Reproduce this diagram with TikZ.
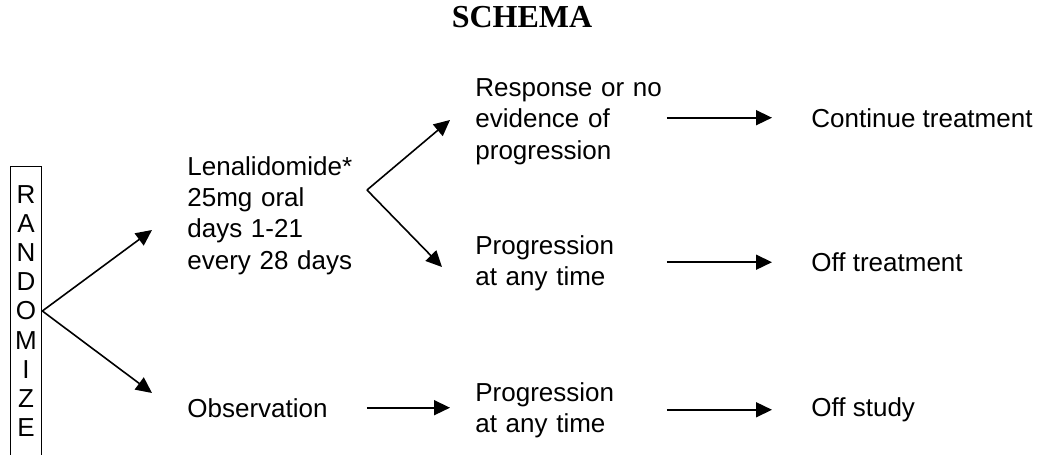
\documentclass[tikz,border=0pt]{standalone}
\usepackage{fontspec}
\setmainfont{Liberation Sans}
\newfontfamily\schemafont{Liberation Serif}
\usetikzlibrary{arrows.meta,positioning}

\begin{document}
\begin{tikzpicture}[
    x=0.5pt, y=-0.5pt,
    txt/.style={inner sep=0pt, anchor=base west, font={\fontsize{13pt}{15.75pt}\selectfont}},
    midtxt/.style={txt, text width=95.5pt, align=left},
    randbox/.style={draw, line width=0.5pt, inner sep=0pt, minimum width=15.85pt, minimum height=145pt, align=center, font={\fontsize{13pt}{14.6pt}\selectfont}},
    arr/.style={line width=0.8pt, -{Triangle[length=8pt,width=7.5pt]}}
]
    \useasboundingbox (0,0) rectangle (1040,455);

    \node[anchor=base, font={\schemafont\fontsize{16pt}{19pt}\selectfont\bfseries}] (title) at (522,27.5) {SCHEMA};

    \node[randbox] (rand) at (26,311) {R\\A\\N\\D\\O\\M\\I\\Z\\E};

    \node[midtxt, text width=84pt] (lena) at (187,175) {Lenalidomide*\\25mg oral\\days 1-21\\every 28 days};
    \node[txt] (obs) at (187,417) {Observation};

    \node[midtxt] (resp) at (475,96.5) {Response or no\\evidence of\\progression};
    \node[midtxt] (prog) at (475,254) {Progression\\at any time};
    \node[midtxt] (progobs) at (475,401) {Progression\\at any time};

    \node[txt] (cont) at (811,127) {Continue treatment};
    \node[txt] (offtreat) at (811,271.5) {Off treatment};
    \node[txt] (offstudy) at (811,416.5) {Off study};

    % fork points and arrow ends
    \coordinate (lenatip) at (152,230);
    \coordinate (obstip) at (152,393);
    \coordinate (lenafork) at (367,190);
    \coordinate (resptip) at (450,120);
    \coordinate (progtip) at (442,267);

    \draw[arr] (rand.east) -- (lenatip);
    \draw[arr] (rand.east) -- (obstip);
    \draw[arr] (lenafork) -- (resptip);
    \draw[arr] (lenafork) -- (progtip);

    \draw[arr, shorten <=19.5pt, shorten >=12.5pt] (obs.east) -- (obs.east -| progobs.west);
    \draw[arr, shorten >=19.5pt] (cont.west -| resp.east) -- (cont.west);
    \draw[arr, shorten >=19.5pt] (offtreat.west -| prog.east) -- (offtreat.west);
    \draw[arr, shorten >=19.5pt] (offstudy.west -| progobs.east) -- (offstudy.west);
\end{tikzpicture}
\end{document}
